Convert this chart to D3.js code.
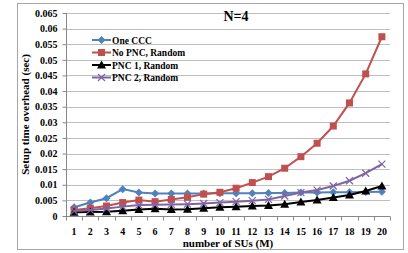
<!DOCTYPE html>
<html>
<head>
<meta charset="utf-8">
<script src="https://cdn.jsdelivr.net/npm/d3@7/dist/d3.min.js"></script>
<style>
  body { margin: 0; background: #fff; }
  svg text { font-family: "Liberation Serif", "Times New Roman", serif; font-weight: bold; }
</style>
</head>
<body>
<div id="chart"></div>
<script>
const categories = d3.range(1, 21);
const yTicks = [0, 0.005, 0.01, 0.015, 0.02, 0.025, 0.03, 0.035, 0.04, 0.045, 0.05, 0.055, 0.06, 0.065];
const seriesNames = ["One CCC", "No PNC, Random", "PNC 1, Random", "PNC 2, Random"];

const oneCCC = [0.0028, 0.0043, 0.0057, 0.0086, 0.0075, 0.0072, 0.0072, 0.0072, 0.0072, 0.0073,
  0.0073, 0.0073, 0.0074, 0.0074, 0.0075, 0.0075, 0.0076, 0.0076, 0.0077, 0.0078];
const noPNC = [0.0019, 0.0025, 0.0032, 0.0043, 0.0051, 0.0046, 0.0053, 0.006, 0.007, 0.0076,
  0.0089, 0.0107, 0.0126, 0.0153, 0.019, 0.0233, 0.0288, 0.0362, 0.0455, 0.0574];
const pnc1 = [0.0012, 0.0013, 0.0014, 0.0017, 0.0021, 0.0023, 0.0021, 0.0022, 0.0025, 0.0028,
  0.003, 0.0032, 0.0034, 0.0038, 0.0045, 0.0051, 0.0059, 0.0067, 0.008, 0.0096];
const pnc2 = [0.0016, 0.0019, 0.0024, 0.003, 0.0035, 0.0036, 0.0037, 0.0038, 0.004, 0.0043,
  0.0046, 0.0049, 0.0053, 0.0064, 0.0075, 0.0083, 0.0096, 0.0113, 0.0137, 0.0166];

const W = 408, H = 253;
const margin = { top: 13, right: 18, bottom: 37, left: 66 };

const svg = d3.select("#chart").append("svg").attr("width", W).attr("height", H);

// outer frame
svg.append("rect").attr("x", 17.5).attr("y", 3.5).attr("width", 386).attr("height", 246)
  .attr("fill", "#fff").attr("stroke", "#a6a6a6").attr("stroke-width", 1);

const x = d3.scaleBand().domain(categories).range([margin.left, W - margin.right]);
const y = d3.scaleLinear().domain([0, 0.065]).range([H - margin.bottom, margin.top]);

// gridlines
svg.append("g").selectAll("line").data(yTicks.slice(1)).join("line")
  .attr("x1", margin.left).attr("x2", W - margin.right)
  .attr("y1", d => Math.round(y(d)) + 0.5).attr("y2", d => Math.round(y(d)) + 0.5)
  .attr("stroke", "#bfbfbf").attr("stroke-width", 1);

// y axis
const yAxis = svg.append("g").attr("transform", `translate(${margin.left + 0.5},0)`)
  .call(d3.axisLeft(y).tickValues(yTicks).tickFormat(d => d === 0 ? "0" : String(+d.toFixed(3))).tickSize(4).tickPadding(5));
yAxis.selectAll("path,line").attr("stroke", "#888");
yAxis.selectAll("text").attr("font-size", 10).attr("fill", "#000")
  .style("font-family", "Liberation Serif").style("font-weight", "bold");
yAxis.select(".domain").attr("d", `M0,${y(0)}V${y(0.065)}`);

// x axis
const xAxis = svg.append("g").attr("transform", `translate(0,${Math.round(y(0)) + 0.5})`);
xAxis.append("line").attr("x1", margin.left).attr("x2", W - margin.right).attr("stroke", "#888");
xAxis.selectAll(".tk").data(d3.range(0, 21)).join("line").attr("class", "tk")
  .attr("x1", d => Math.round(margin.left + d * x.step()) + 0.5)
  .attr("x2", d => Math.round(margin.left + d * x.step()) + 0.5)
  .attr("y1", 0).attr("y2", 4).attr("stroke", "#888");
xAxis.selectAll("text").data(categories).join("text")
  .attr("x", d => x(d) + x.bandwidth() / 2).attr("y", 18)
  .attr("text-anchor", "middle").attr("font-size", 10).text(d => d);

// axis titles
svg.append("text").attr("x", 228).attr("y", 247).attr("text-anchor", "middle")
  .attr("font-size", 11).text("number of SUs (M)");
svg.append("text").attr("transform", `translate(29,${(y(0) + y(0.065)) / 2}) rotate(-90)`)
  .attr("text-anchor", "middle").attr("font-size", 11).text("Setup time overhead (sec)");
svg.append("text").attr("x", 236).attr("y", 21).attr("text-anchor", "middle")
  .attr("font-size", 14).text("N=4");

const colors = ["#4f81bd", "#c0504d", "#000000", "#8064a2"];
const allSeries = [oneCCC, noPNC, pnc1, pnc2];
const cx = d => x(d) + x.bandwidth() / 2;

function drawMarker(g, i, px, py) {
  const c = colors[i];
  if (i === 0) {
    g.append("path").attr("d", `M${px},${py - 4}L${px + 4},${py}L${px},${py + 4}L${px - 4},${py}Z`).attr("fill", c);
  } else if (i === 1) {
    g.append("rect").attr("x", px - 3.5).attr("y", py - 3.5).attr("width", 7).attr("height", 7).attr("fill", c);
  } else if (i === 2) {
    g.append("path").attr("d", `M${px},${py - 4.5}L${px + 4.5},${py + 3.5}L${px - 4.5},${py + 3.5}Z`).attr("fill", c);
  } else {
    g.append("path").attr("d", `M${px - 3.5},${py - 3.5}L${px + 3.5},${py + 3.5}M${px - 3.5},${py + 3.5}L${px + 3.5},${py - 3.5}`)
      .attr("stroke", c).attr("stroke-width", 1.2);
  }
}

const line = d3.line().x((d, j) => cx(categories[j])).y(d => y(d));
allSeries.forEach((vals, i) => {
  const g = svg.append("g");
  g.append("path").datum(vals).attr("d", line).attr("fill", "none")
    .attr("stroke", colors[i]).attr("stroke-width", 2);
  vals.forEach((v, j) => drawMarker(g, i, cx(categories[j]), y(v)));
});

// legend
const legendY = [40, 52.5, 65, 77.5];
seriesNames.forEach((name, i) => {
  const g = svg.append("g");
  g.append("line").attr("x1", 92).attr("x2", 111).attr("y1", legendY[i]).attr("y2", legendY[i])
    .attr("stroke", colors[i]).attr("stroke-width", 2);
  drawMarker(g, i, 101.5, legendY[i]);
  g.append("text").attr("x", 112).attr("y", legendY[i] + 3.5).attr("font-size", 9.5).text(name);
});
</script>
</body>
</html>
